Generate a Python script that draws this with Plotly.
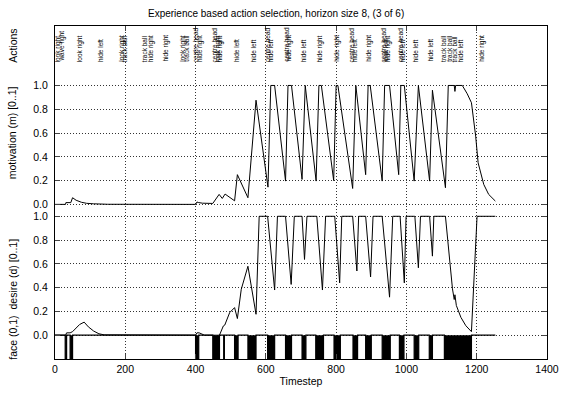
import plotly.graph_objects as go

# ---------------- data ----------------
mot_t = [0, 30, 31, 45, 50, 60, 75, 90, 110, 130, 150, 400, 404, 409, 420, 449, 467, 476, 484,
         511, 519, 549, 572, 606, 614, 625, 656, 663, 673, 703, 712, 743, 751, 758, 793, 800, 805,
         847, 856, 884, 891, 897, 931, 938, 952, 978, 984, 994, 1022, 1034, 1066, 1074, 1111,
         1119, 1136, 1138, 1140, 1159, 1173, 1185, 1197, 1204, 1220, 1234, 1253]
mot_v = [0, 0, 0.015, 0.015, 0.056, 0.035, 0.018, 0.009, 0.005, 0.003, 0.001, 0, 0.02, 0.015, 0.01,
         0.008, 0.084, 0.05, 0.087, 0.03, 0.25, 0.056, 0.876, 0.145, 1.0, 1.0, 0.196, 1.0, 1.0,
         0.21, 1.0, 0.196, 1.0, 1.0, 0.2, 1.0, 1.0, 0.134, 1.0, 0.25, 1.0, 1.0, 0.196, 1.0, 1.0,
         0.25, 1.0, 1.0, 0.196, 1.0, 0.196, 0.96, 0.14, 1.0, 1.0, 0.95, 1.0, 1.0, 0.93, 0.855,
         0.574, 0.35, 0.168, 0.084, 0.028]

des_t = [0, 30, 33, 43, 50, 60, 70, 83, 95, 110, 125, 140, 400, 404, 410, 418, 425, 468, 479, 483,
         497, 511, 519, 530, 549, 572, 581, 605, 625, 633, 656, 672, 681, 703, 710, 717, 745, 761,
         770, 796, 810, 816, 847, 859, 864, 884, 898, 905, 931, 952, 961, 982, 994, 999, 1024,
         1034, 1040, 1066, 1074, 1078, 1111, 1131, 1136, 1138, 1142, 1155, 1169, 1185, 1201, 1253]
des_v = [0, 0, 0.02, 0.02, 0.03, 0.06, 0.09, 0.11, 0.07, 0.035, 0.012, 0.003, 0, 0.02, 0.02, 0.01,
         0, 0, 0.078, 0.085, 0.19, 0.232, 0.14, 0.386, 0.58, 0.176, 1.0, 1.0, 0.38, 1.0, 1.0,
         0.427, 1.0, 1.0, 0.637, 1.0, 1.0, 0.38, 1.0, 1.0, 0.44, 1.0, 1.0, 0.54, 1.0, 1.0, 0.49,
         1.0, 1.0, 0.32, 1.0, 1.0, 0.44, 1.0, 1.0, 0.567, 1.0, 1.0, 0.665, 1.0, 1.0, 0.39, 0.30,
         0.34, 0.25, 0.15, 0.08, 0.03, 1.0, 1.0]

face_start = [29, 43, 400, 449, 480, 511, 549, 605, 656, 703, 742, 794, 848, 884, 931, 980,
              1022, 1065, 1108]
face_end = [33, 50, 409, 468, 482, 521, 572, 625, 673, 714, 764, 812, 861, 900, 954, 993,
            1035, 1074, 1185]
face_last_t = 1253

action_t = [8, 20, 70, 129, 188, 198, 255, 272, 316, 362, 373, 400, 411, 455, 462, 469, 516,
            566, 605, 614, 658, 666, 708, 754, 800, 845, 852, 891, 936, 942, 947, 984, 990,
            1027, 1070, 1105, 1122, 1138, 1155, 1213]
action_label = ["look right", "wave right", "look right", "hide left", "look right", "track ball",
                "track ball", "hide right", "hide right", "look right", "track ball",
                "centre head", "hide right", "centre head", "look right", "hide right",
                "hide left", "hide left", "centre head", "hide left", "centre head",
                "hide right", "hide left", "hide right", "hide right", "centre head",
                "hide left", "hide right", "centre head", "look left", "hide right",
                "centre head", "hide left", "hide left", "hide left", "track ball",
                "track ball", "track ball", "hide left", "hide right"]

x_ticks = [0, 200, 400, 600, 800, 1000, 1200, 1400]
level_ticks = [0.0, 0.2, 0.4, 0.6, 0.8, 1.0]
level_text = ["0.0", "0.2", "0.4", "0.6", "0.8", "1.0"]

# ---------------- layout constants ----------------
MOT_OFFSET = 1.1     # motivation panel drawn above desire panel
FACE_DEPTH = -0.2    # face strip below desire 0
ACTION_Y = 2.28
FONT = "Liberation Sans, Arial, Helvetica, sans-serif"
GRID_DASH = "1px,2px"

# face step series
fx, fy = [0], [0]
for s, e in zip(face_start, face_end):
    fx += [s, s, e, e]
    fy += [0, FACE_DEPTH, FACE_DEPTH, 0]
fx.append(face_last_t)
fy.append(0)

fig = go.Figure()
fig.add_trace(go.Scatter(x=fx, y=fy, mode="lines", fill="tozeroy",
                         fillcolor="black", line=dict(color="black", width=1.2),
                         hoverinfo="skip"))
fig.add_trace(go.Scatter(x=des_t, y=des_v, mode="lines",
                         line=dict(color="black", width=1)))
fig.add_trace(go.Scatter(x=mot_t, y=[v + MOT_OFFSET for v in mot_v], mode="lines",
                         line=dict(color="black", width=1)))

ytickvals = level_ticks + [v + MOT_OFFSET for v in level_ticks]
yticktext = level_text + level_text

fig.update_layout(
    width=571, height=398,
    margin=dict(l=55, r=15, t=26, b=38),
    plot_bgcolor="white", paper_bgcolor="white",
    showlegend=False,
    font=dict(family=FONT, size=10.5, color="black"),
)
fig.update_xaxes(
    range=[0, 1400], tickvals=x_ticks, ticks="inside", ticklen=5,
    showline=True, linecolor="black", linewidth=1, mirror="ticks",
    showgrid=True, gridcolor="#333", griddash=GRID_DASH, gridwidth=1, zeroline=False,
    title=dict(text="Timestep", standoff=4, font=dict(size=10.5)),
    tickfont=dict(size=10.5),
)
fig.update_yaxes(
    range=[-0.2, 2.6], tickvals=ytickvals, ticktext=yticktext, ticks="inside", ticklen=5,
    showline=True, linecolor="black", linewidth=1, mirror="ticks",
    showgrid=True, gridcolor="#333", griddash=GRID_DASH, gridwidth=1, zeroline=False,
    tickfont=dict(size=10.5), ticklabelstandoff=4,
)

ann = []
ann.append(dict(text="Experience based action selection, horizon size 8, (3 of 6)",
                xref="paper", yref="paper", x=0.45, y=1.039, xanchor="center",
                yanchor="middle", showarrow=False, font=dict(size=10)))
for txt, yc in [("Actions", 2.435), ("motivation (m) [0..1]", 1.70),
                ("face (0,1)  desire (d) [0..1]", 0.30)]:
    ann.append(dict(text=txt, xref="paper", yref="y", x=-0.087, y=yc, textangle=-90,
                    xanchor="center", yanchor="middle", showarrow=False,
                    font=dict(size=10.5)))
for t, lab in zip(action_t, action_label):
    ann.append(dict(text=lab, x=t, y=ACTION_Y, xref="x", yref="y", textangle=-90,
                    xanchor="center", yanchor="bottom", showarrow=False,
                    font=dict(size=6.5)))
fig.update_layout(annotations=ann)

fig.write_html("out.html")
